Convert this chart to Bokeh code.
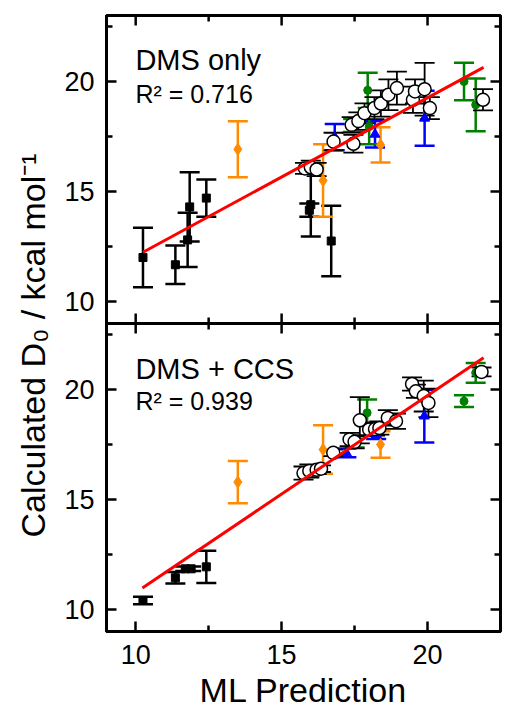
import numpy as np
from bokeh.plotting import figure
from bokeh.models import Range1d, LinearAxis, FixedTicker, Span, Label, Title
from bokeh.embed import file_html
from bokeh.resources import INLINE

# ---------------- data: top panel (DMS only) ----------------
top_sq_x = [10.25, 11.36, 11.85, 11.78, 12.42, 16.0, 15.95, 16.7]
top_sq_y = [12.0, 11.67, 14.3, 12.8, 14.7, 14.4, 14.15, 12.75]
top_sq_e = [1.35, 0.87, 1.57, 1.23, 0.85, 1.45, 0.3, 1.6]

top_or_x = [13.5, 16.42, 18.39]
top_or_y = [16.92, 15.5, 17.12]
top_or_e = [1.27, 1.65, 0.8]

top_bl_x = [16.82, 18.2, 19.9]
top_bl_y = [17.47, 17.6, 18.33]
top_bl_e = [0.6, 0.6, 1.25]

top_gr_x = [17.95, 18.0, 17.45, 21.25, 21.65]
top_gr_y = [19.6, 17.95, 18.0, 20.0, 18.94]
top_gr_e = [0.8, 0.8, 0.3, 0.85, 1.2]

top_ci_x = [15.8, 16.0, 16.2, 16.78, 17.46, 17.4, 17.63, 17.84, 18.18, 18.4,
            18.66, 18.95, 19.5, 19.57, 19.9, 20.08, 21.9]
top_ci_y = [16.05, 16.1, 16.0, 17.27, 17.17, 18.03, 18.2, 18.56, 18.79, 19.0,
            19.4, 19.7, 19.17, 19.55, 19.65, 18.79, 19.17]
top_ci_e = [0.25, 0.3, 0.3, 0.4, 0.4, 0.35, 0.4, 0.45, 0.5, 0.6,
            0.7, 0.75, 0.6, 0.55, 1.2, 0.5, 0.48]

top_fit_x = [10.25, 21.92]
top_fit_y = [12.24, 20.64]

# ---------------- data: bottom panel (DMS + CCS) ----------------
bot_sq_x = [10.25, 11.36, 11.7, 11.9, 12.42]
bot_sq_y = [10.41, 11.44, 11.85, 11.85, 11.94]
bot_sq_e = [0.17, 0.26, 0.1, 0.1, 0.73]

bot_or_x = [13.5, 16.42, 18.39]
bot_or_y = [15.79, 17.27, 17.5]
bot_or_e = [0.96, 1.1, 0.6]

bot_bl_x = [17.22, 18.24, 19.89]
bot_bl_y = [17.12, 17.95, 18.79]
bot_bl_e = [0.2, 0.2, 1.2]

bot_gr_x = [17.93, 17.5, 21.25, 21.65]
bot_gr_y = [18.94, 17.56, 19.47, 20.76]
bot_gr_e = [0.6, 0.2, 0.27, 0.45]

bot_ci_x = [15.75, 15.95, 16.2, 16.35, 16.77, 17.33, 17.5, 17.68, 18.0, 18.2,
            18.35, 18.64, 18.92, 19.47, 19.6, 19.87, 20.03, 21.85]
bot_ci_y = [16.2, 16.3, 16.35, 16.4, 17.12, 17.73, 17.62, 18.6, 18.18, 18.2,
            18.25, 18.71, 18.56, 20.25, 19.92, 19.7, 19.39, 20.8]
bot_ci_e = [0.3, 0.3, 0.2, 0.15, 0.15, 0.3, 0.3, 1.05, 0.3, 0.3,
            0.3, 0.35, 0.35, 0.3, 0.3, 0.7, 0.65, 0.2]

bot_fit_x = [10.23, 21.92]
bot_fit_y = [10.98, 21.44]

# ---------------- texts / ticks ----------------
panel_titles = ["DMS only", "DMS + CCS"]
r2_texts = ["R\u00b2 = 0.716", "R\u00b2 = 0.939"]
x_title = "ML Prediction"
y_title = "Calculated D\u2080 / kcal mol\u207b\u00b9"
x_major = [10, 15, 20]
x_minor = [12.5, 17.5, 22.5]
y_major = [10, 15, 20]
y_minor = [12.5, 17.5, 22.5]

FONT = "Liberation Sans"
OFFSET = 14  # bottom panel is shifted by 14 units on the primary y range
ORANGE = "#FF8C00"
BLUE = "#0000FF"
GREEN = "#008000"

xr = Range1d(9, 22.5)
yr = Range1d(-5, 23)
p = figure(width=507, height=711, x_range=xr, y_range=yr,
           output_backend="svg", toolbar_location=None,
           x_axis_location=None, y_axis_location=None,
           min_border_left=106, min_border_right=7, min_border_top=15, min_border_bottom=80)
p.extra_y_ranges = {"bot": Range1d(9, 9 + 2 * OFFSET)}
for g in p.grid:
    g.visible = False
p.outline_line_color = "black"
p.outline_line_width = 3
p.background_fill_color = "white"
p.border_fill_color = "white"

y_ticks = y_major + [t - OFFSET for t in y_major]
y_mticks = y_minor + [t - OFFSET for t in y_minor]
yt = FixedTicker(ticks=y_ticks, minor_ticks=y_mticks)
xt = FixedTicker(ticks=x_major, minor_ticks=x_minor)


def style(ax):
    ax.axis_line_width = 3
    ax.major_tick_line_width = 2.5
    ax.minor_tick_line_width = 2.5
    ax.major_tick_in = 10
    ax.major_tick_out = 0
    ax.minor_tick_in = 6
    ax.minor_tick_out = 0
    ax.major_label_text_font = FONT
    ax.major_label_text_font_size = "27px"
    ax.major_label_text_color = "black"


left = LinearAxis(ticker=yt)
style(left)
left.major_label_standoff = 12
left.major_label_overrides = {t - OFFSET: str(t) for t in y_major}
p.add_layout(left, "left")

below = LinearAxis(ticker=xt, axis_label=x_title)
style(below)
below.major_label_standoff = 13
below.axis_label_standoff = 4
below.axis_label_text_font = FONT
below.axis_label_text_font_size = "34px"
below.axis_label_text_font_style = "normal"
below.axis_label_text_color = "black"
p.add_layout(below, "below")

ytitle = Title(text=y_title, align="left", offset=94, text_font=FONT,
               text_font_size="34px", text_font_style="normal", text_color="black",
               standoff=20)
p.add_layout(ytitle, "left")

# ticks on the right and top edges and on the panel divider
edge = dict(line_color="black", line_width=2.5)
p.scatter(x=[xr.end] * len(y_ticks), y=y_ticks, marker="dash", size=20, **edge)
p.scatter(x=[xr.end] * len(y_mticks), y=y_mticks, marker="dash", size=12, **edge)
p.scatter(x=x_major, y=[yr.end] * len(x_major), marker="dash", size=20, angle=np.pi / 2, **edge)
p.scatter(x=x_minor, y=[yr.end] * len(x_minor), marker="dash", size=12, angle=np.pi / 2, **edge)
p.add_layout(Span(location=9, dimension="width", line_color="black", line_width=3))
p.scatter(x=x_major, y=[9] * len(x_major), marker="dash", size=20, angle=np.pi / 2, **edge)
p.scatter(x=x_minor, y=[9] * len(x_minor), marker="dash", size=12, angle=np.pi / 2, **edge)


def errbars(x, y, e, color, lw, cap, rng):
    lo = [a - b for a, b in zip(y, e)]
    hi = [a + b for a, b in zip(y, e)]
    p.segment(x0=x, y0=lo, x1=x, y1=hi, line_color=color, line_width=lw, y_range_name=rng)
    p.scatter(x=list(x) + list(x), y=lo + hi, marker="dash", size=cap,
              line_color=color, line_width=lw, y_range_name=rng)


def panel(sq, orr, bl, gr, ci, fit, rng):
    errbars(*sq, "black", 2.5, 20, rng)
    errbars(*orr, ORANGE, 2.5, 20, rng)
    errbars(*bl, BLUE, 2.5, 20, rng)
    errbars(*gr, GREEN, 2.5, 20, rng)
    errbars(*ci, "black", 1.8, 20, rng)
    p.scatter(x=sq[0], y=sq[1], marker="square", size=8, color="black", y_range_name=rng)
    p.scatter(x=orr[0], y=orr[1], marker="diamond", size=12, color=ORANGE, y_range_name=rng)
    p.scatter(x=bl[0], y=bl[1], marker="triangle", size=10, color=BLUE, y_range_name=rng)
    p.scatter(x=gr[0], y=gr[1], marker="circle", size=8, color=GREEN, y_range_name=rng)
    p.scatter(x=ci[0], y=ci[1], marker="circle", size=13, fill_color="white",
              line_color="black", line_width=1.5, y_range_name=rng)
    p.line(x=fit[0], y=fit[1], line_color="red", line_width=3, y_range_name=rng)


panel((top_sq_x, top_sq_y, top_sq_e), (top_or_x, top_or_y, top_or_e),
      (top_bl_x, top_bl_y, top_bl_e), (top_gr_x, top_gr_y, top_gr_e),
      (top_ci_x, top_ci_y, top_ci_e), (top_fit_x, top_fit_y), "default")
panel((bot_sq_x, bot_sq_y, bot_sq_e), (bot_or_x, bot_or_y, bot_or_e),
      (bot_bl_x, bot_bl_y, bot_bl_e), (bot_gr_x, bot_gr_y, bot_gr_e),
      (bot_ci_x, bot_ci_y, bot_ci_e), (bot_fit_x, bot_fit_y), "bot")

# panel annotations (positions on the primary range)
for i, (t, r) in enumerate(zip(panel_titles, r2_texts)):
    shift = OFFSET * i
    p.add_layout(Label(x=9.99, y=21.0 - shift - (0.08 if i else 0), text=t,
                       text_font=FONT, text_font_size="29px",
                       text_baseline="alphabetic", text_color="black"))
    p.add_layout(Label(x=9.99, y=19.42 - shift + (0.05 if i else 0), text=r,
                       text_font=FONT, text_font_size="25px",
                       text_baseline="alphabetic", text_color="black"))

open("out.html", "w").write(file_html(p, INLINE))
